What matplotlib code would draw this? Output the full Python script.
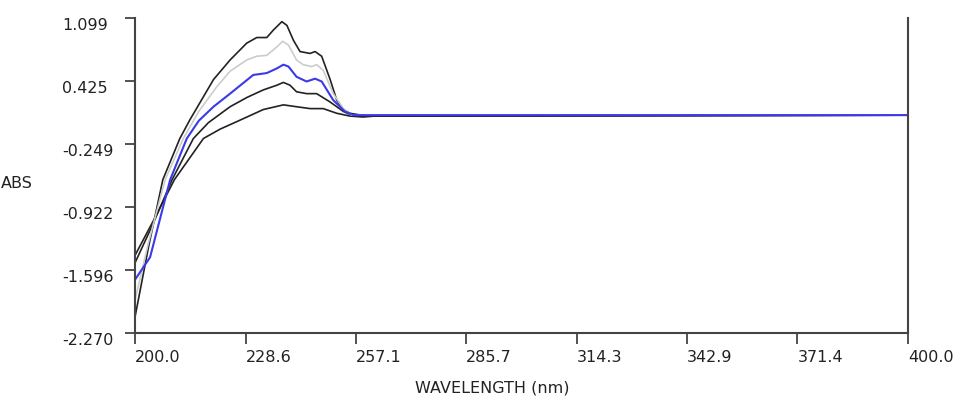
import matplotlib
matplotlib.use('Agg')
import matplotlib.pyplot as plt
import matplotlib.transforms as mtransforms

# spectra (wavelength nm, absorbance)
wl_1 = [200, 203.5, 207.2, 211.6, 214.2, 220.3, 224.6, 228.9, 231.5, 234.1, 235.8, 238.0, 239.3,
        241.0, 242.7, 245.3, 246.6, 248.3, 250.5, 252.2, 253.9, 255.6, 260, 400]
abs_1 = [-2.10, -1.35, -0.63, -0.19, 0.01, 0.44, 0.65, 0.83, 0.89, 0.89, 0.97, 1.06, 1.02,
         0.86, 0.74, 0.72, 0.74, 0.69, 0.44, 0.22, 0.12, 0.08, 0.05, 0.06]

wl_2 = [200, 203.5, 207.8, 212.5, 216.5, 221.1, 224.6, 228.9, 231.5, 234.1, 236.7, 238.2, 239.7,
        241.8, 243.5, 245.7, 247.0, 248.7, 251.3, 253.9, 256, 400]
abs_2 = [-1.92, -1.30, -0.63, -0.19, 0.10, 0.36, 0.53, 0.65, 0.69, 0.70, 0.79, 0.85, 0.81,
         0.65, 0.60, 0.58, 0.60, 0.54, 0.29, 0.13, 0.06, 0.06]

wl_3 = [200, 203.9, 209.1, 213.4, 216.5, 220.3, 224.6, 230.6, 234.1, 236.7, 238.4, 239.7, 241.8,
        244.4, 246.6, 248.3, 251.3, 254.3, 256.5, 400]
abs_3 = [-1.70, -1.46, -0.63, -0.19, 0.00, 0.15, 0.29, 0.49, 0.51, 0.56, 0.60, 0.58, 0.47,
         0.42, 0.45, 0.42, 0.22, 0.10, 0.06, 0.06]

wl_4 = [200, 204.7, 209.6, 215.1, 219, 224.6, 229, 233.2, 236.7, 238.4, 240.1, 241.8, 244.4,
        247.0, 250.5, 253.9, 256.5, 400]
abs_4 = [-1.52, -1.10, -0.63, -0.19, -0.02, 0.15, 0.25, 0.33, 0.38, 0.41, 0.38, 0.31, 0.29,
         0.29, 0.20, 0.10, 0.05, 0.06]

wl_5 = [200, 205, 210.2, 217.7, 222, 226.3, 233.2, 238.4, 241.8, 245.3, 248.7, 252.2, 255.6,
        259, 262, 400]
abs_5 = [-1.44, -1.05, -0.63, -0.19, -0.09, -0.01, 0.12, 0.17, 0.15, 0.13, 0.13, 0.08, 0.05,
         0.04, 0.05, 0.06]

xticks = [200.0, 228.6, 257.1, 285.7, 314.3, 342.9, 371.4, 400.0]
yticks = [1.099, 0.425, -0.249, -0.922, -1.596, -2.270]

plt.rcParams['font.family'] = ['DejaVu Sans']

fig = plt.figure(figsize=(9.6, 4), dpi=100)
ax = fig.add_axes([135/960, 1-333/400, (908-135)/960, (333-18)/400])

ax.plot(wl_5, abs_5, color='#222222', lw=1.2)
ax.plot(wl_4, abs_4, color='#222222', lw=1.2)
ax.plot(wl_1, abs_1, color='#222222', lw=1.2)
ax.plot(wl_2, abs_2, color='#cccccc', lw=1.2)
ax.plot(wl_3, abs_3, color='#3a3ae8', lw=1.5)

ax.set_xlim(200, 400)
ax.set_ylim(-2.270, 1.099)
ax.set_xticks(xticks)
ax.set_xticklabels(['%.1f' % v for v in xticks])
ax.set_yticks(yticks)
ax.set_yticklabels(['%.3f' % v for v in yticks])

ax.spines['top'].set_visible(False)
for s in ['left', 'right', 'bottom']:
  ax.spines[s].set_color('#444444')
  ax.spines[s].set_linewidth(1.5)

ax.tick_params(axis='y', direction='out', length=7, width=1.3, color='#444444',
               pad=45.5, labelsize=11.5, labelcolor='#222222')
ax.tick_params(axis='x', direction='out', length=8, width=1.3, color='#444444',
               pad=4, labelsize=11.5, labelcolor='#222222')
off = mtransforms.ScaledTranslation(0, -4.5/72, fig.dpi_scale_trans)
for lab in ax.get_yticklabels():
  lab.set_ha('left')
  lab.set_transform(lab.get_transform() + off)
for lab in ax.get_xticklabels():
  lab.set_ha('left')

fig.text(0.001, 1-183/400, 'ABS', ha='left', va='center', fontsize=11.5, color='#222222')
fig.text(492/960, 1-388/400, 'WAVELENGTH (nm)', ha='center', va='center', fontsize=11.5,
         color='#222222')

fig.savefig('out.png', dpi=100)
